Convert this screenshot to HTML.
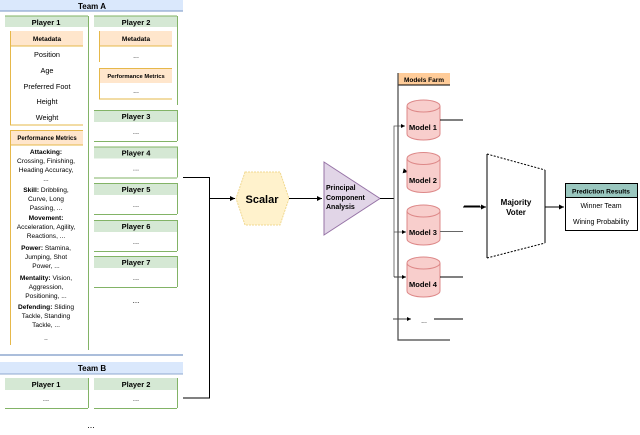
<!DOCTYPE html>
<html><head><meta charset="utf-8"><style>
html,body{margin:0;padding:0;background:#fff;width:640px;height:435px;overflow:hidden}
svg{display:block;font-family:"Liberation Sans",sans-serif}
text{text-anchor:middle;fill:#000}
.b{font-weight:bold}
</style></head><body>
<svg width="640" height="435" viewBox="0 0 640 435" xmlns="http://www.w3.org/2000/svg">
<defs><marker id="a" markerWidth="6" markerHeight="6" refX="5" refY="3" orient="auto"><path d="M0,0.5 L5,3 L0,5.5z" fill="#000"/></marker></defs>
<rect x="0" y="0" width="183" height="11" fill="#dae8fc"/>
<line x1="0" y1="11" x2="183" y2="11" stroke="#8fa9cf" stroke-width="1.2"/>
<text x="92" y="9" font-size="8" class="b">Team A</text>
<rect x="5" y="16" width="83" height="11" fill="#d5e8d4"/>
<line x1="5" y1="16" x2="88" y2="16" stroke="#82b366"/>
<line x1="88.5" y1="16" x2="88.5" y2="350" stroke="#82b366"/>
<text x="46" y="25" font-size="7.5" class="b">Player 1</text>
<rect x="10" y="31" width="73" height="15" fill="#ffe6cc"/>
<line x1="10.5" y1="31" x2="10.5" y2="125" stroke="#e6b84a"/>
<line x1="10" y1="46" x2="83" y2="46" stroke="#e6b84a"/>
<line x1="10" y1="125" x2="83" y2="125" stroke="#e6b84a"/>
<text x="47" y="41" font-size="6.5" class="b">Metadata</text>
<g font-size="7.3">
<text x="47" y="57">Position</text><text x="47" y="73">Age</text><text x="47" y="89">Preferred Foot</text><text x="47" y="104">Height</text><text x="47" y="120">Weight</text></g>
<rect x="10" y="130" width="73" height="15" fill="#ffe6cc"/>
<line x1="10" y1="130.5" x2="83" y2="130.5" stroke="#e6b84a"/>
<line x1="10.5" y1="130" x2="10.5" y2="345" stroke="#e6b84a"/>
<line x1="10" y1="145" x2="83" y2="145" stroke="#e6b84a"/>
<text x="47" y="140" font-size="6" class="b">Performance Metrics</text>
<g font-size="6.6">
<text x="46" y="154" class="b">Attacking:</text>
<text x="46" y="163">Crossing, Finishing,</text>
<text x="46" y="172">Heading Accuracy,</text>
<text x="46" y="181">...</text>
<text x="46" y="192"><tspan class="b">Skill:</tspan> Dribbling,</text>
<text x="46" y="201">Curve, Long</text>
<text x="46" y="210">Passing, ...</text>
<text x="46" y="220" class="b">Movement:</text>
<text x="46" y="229">Acceleration, Agility,</text>
<text x="46" y="238">Reactions, ...</text>
<text x="46" y="250"><tspan class="b">Power:</tspan> Stamina,</text>
<text x="46" y="259">Jumping, Shot</text>
<text x="46" y="268">Power, ...</text>
<text x="46" y="280"><tspan class="b">Mentality:</tspan> Vision,</text>
<text x="46" y="289">Aggression,</text>
<text x="46" y="298">Positioning, ...</text>
<text x="46" y="309"><tspan class="b">Defending:</tspan> Sliding</text>
<text x="46" y="318">Tackle, Standing</text>
<text x="46" y="327">Tackle, ...</text>
<text x="46" y="340">..</text>
</g>
<rect x="94" y="16" width="83" height="11" fill="#d5e8d4"/>
<line x1="94" y1="16" x2="177" y2="16" stroke="#82b366"/>
<line x1="177.5" y1="16" x2="177.5" y2="105" stroke="#82b366"/>
<text x="136" y="25" font-size="7.5" class="b">Player 2</text>
<rect x="99" y="31" width="73" height="15" fill="#ffe6cc"/>
<line x1="99.5" y1="31" x2="99.5" y2="62" stroke="#e6b84a"/>
<line x1="99" y1="46" x2="172" y2="46" stroke="#e6b84a"/>
<text x="136" y="41" font-size="6.5" class="b">Metadata</text>
<text x="136" y="58" font-size="7">...</text>
<rect x="99" y="68" width="73" height="15" fill="#ffe6cc"/>
<path d="M99.5 68 V99 H172 M99 68.5 H172" stroke="#e6b84a" fill="none"/>
<text x="136" y="78" font-size="5.8" class="b">Performance Metrics</text>
<text x="136" y="93" font-size="7">...</text>
<g font-size="7.5">
<g><rect x="94" y="110" width="83" height="12" fill="#d5e8d4"/><path d="M94 110.5 H177 M177.5 110 V141 M94 141.5 H177" stroke="#82b366" fill="none"/><text x="136" y="119" class="b">Player 3</text><text x="136" y="134">...</text></g>
<g transform="translate(0,36.5)"><rect x="94" y="110" width="83" height="12" fill="#d5e8d4"/><path d="M94 110.5 H177 M177.5 110 V141 M94 141.5 H177" stroke="#82b366" fill="none"/><text x="136" y="119" class="b">Player 4</text><text x="136" y="134">...</text></g>
<g transform="translate(0,73)"><rect x="94" y="110" width="83" height="12" fill="#d5e8d4"/><path d="M94 110.5 H177 M177.5 110 V141 M94 141.5 H177" stroke="#82b366" fill="none"/><text x="136" y="119" class="b">Player 5</text><text x="136" y="134">...</text></g>
<g transform="translate(0,110)"><rect x="94" y="110" width="83" height="12" fill="#d5e8d4"/><path d="M94 110.5 H177 M177.5 110 V141 M94 141.5 H177" stroke="#82b366" fill="none"/><text x="136" y="119" class="b">Player 6</text><text x="136" y="134">...</text></g>
<g transform="translate(0,146)"><rect x="94" y="110" width="83" height="12" fill="#d5e8d4"/><path d="M94 110.5 H177 M177.5 110 V141 M94 141.5 H177" stroke="#82b366" fill="none"/><text x="136" y="119" class="b">Player 7</text><text x="136" y="134">...</text></g>
</g>
<text x="136" y="303" font-size="8">...</text>
<line x1="0" y1="355" x2="183" y2="355" stroke="#8fa9cf" stroke-width="1.5"/>
<rect x="0" y="362" width="183" height="12" fill="#dae8fc"/>
<line x1="0" y1="374" x2="183" y2="374" stroke="#8fa9cf"/>
<text x="92" y="371" font-size="8" class="b">Team B</text>
<g font-size="7.5">
<rect x="5" y="378" width="83" height="12" fill="#d5e8d4"/><path d="M88.5 378 V408 M5 408.5 H88" stroke="#82b366" fill="none"/><text x="46" y="387" class="b">Player 1</text><text x="46" y="401">...</text>
<rect x="94" y="378" width="83" height="12" fill="#d5e8d4"/><path d="M177.5 378 V408 M94 408.5 H177" stroke="#82b366" fill="none"/><text x="136" y="387" class="b">Player 2</text><text x="136" y="401">...</text>
</g>
<text x="91" y="428" font-size="9">...</text>
<path d="M183 177.5 H209.5 V398 H183" stroke="#000" fill="none" stroke-width="1"/>
<line x1="209" y1="198.5" x2="235" y2="198.5" stroke="#000" marker-end="url(#a)"/>
<polygon points="245,172 280,172 289,198.5 280,225 245,225 236,198.5" fill="#fff2cc" stroke="#f0d890" stroke-dasharray="2,1"/>
<text x="262" y="203" font-size="11" class="b">Scalar</text>
<line x1="289" y1="198.5" x2="322" y2="198.5" stroke="#000" marker-end="url(#a)"/>
<polygon points="324,162 380,198.5 324,235" fill="#e1d5e7" stroke="#9673a6"/>
<g font-size="7" class="b"><text x="326" y="190" style="text-anchor:start">Principal</text><text x="326" y="200" style="text-anchor:start">Component</text><text x="326" y="209" style="text-anchor:start">Analysis</text></g>
<path d="M380 198.5 H394" stroke="#000" fill="none"/>
<path d="M394 277 V126 H405" stroke="#555" fill="none" stroke-width="0.8" marker-end="url(#a)"/>
<line x1="394" y1="232" x2="406" y2="232" stroke="#555" stroke-width="0.8" marker-end="url(#a)"/>
<line x1="394" y1="277" x2="406" y2="277" stroke="#000" stroke-width="0.8" marker-end="url(#a)"/>
<line x1="404" y1="171" x2="408" y2="172" stroke="#000" marker-end="url(#a)"/>
<line x1="393" y1="319" x2="411" y2="319" stroke="#000" stroke-width="0.8" marker-end="url(#a)"/>
<text x="424" y="323" font-size="7">...</text>
<line x1="434" y1="319" x2="463" y2="319" stroke="#000"/>
<rect x="398" y="73" width="52" height="12" fill="#ffcc99"/>
<line x1="398" y1="85" x2="450" y2="85" stroke="#000"/>
<text x="424" y="82" font-size="6.5" class="b">Models Farm</text>
<path d="M398 73 V340 H450" stroke="#444" fill="none" stroke-width="1.2"/>
<g id="cyl"><path d="M407 106 V134 A16.5 6 0 0 0 440 134 V106" fill="#f8cecc" stroke="#d88"/><ellipse cx="423.5" cy="106" rx="16.5" ry="6" fill="#f8cecc" stroke="#d88"/></g>
<use href="#cyl" y="52.5"/><use href="#cyl" y="105"/><use href="#cyl" y="157"/>
<g font-size="7.5" class="b"><text x="423" y="130">Model 1</text><text x="423" y="183">Model 2</text><text x="423" y="235">Model 3</text><text x="423" y="287">Model 4</text></g>
<g stroke="#000"><line x1="440" y1="120" x2="463" y2="120"/><line x1="440" y1="231.5" x2="463" y2="231.5" stroke="#666"/><line x1="440" y1="277" x2="463" y2="277"/><line x1="464" y1="206" x2="480" y2="206"/></g>
<line x1="463" y1="207" x2="486" y2="207" stroke="#000" marker-end="url(#a)"/>
<path d="M487 154 L545 170 M487 258 L545 243" stroke="#000" stroke-dasharray="2,1.5" fill="none"/>
<path d="M487 154 V258 M545 170 V243" stroke="#000" fill="none"/>
<g font-size="8" class="b"><text x="516" y="205">Majority</text><text x="516" y="215">Voter</text></g>
<line x1="545" y1="207" x2="564" y2="207" stroke="#000" marker-end="url(#a)"/>
<rect x="565.5" y="183.5" width="72" height="47" fill="#fff" stroke="#000"/>
<rect x="565.5" y="183.5" width="72" height="14" fill="#9ac7bf" stroke="#000"/>
<text x="601" y="193.5" font-size="6.6" class="b">Prediction Results</text>
<g font-size="7"><text x="601" y="208">Winner Team</text><text x="601" y="224">Wining Probability</text></g>
</svg>
</body></html>
